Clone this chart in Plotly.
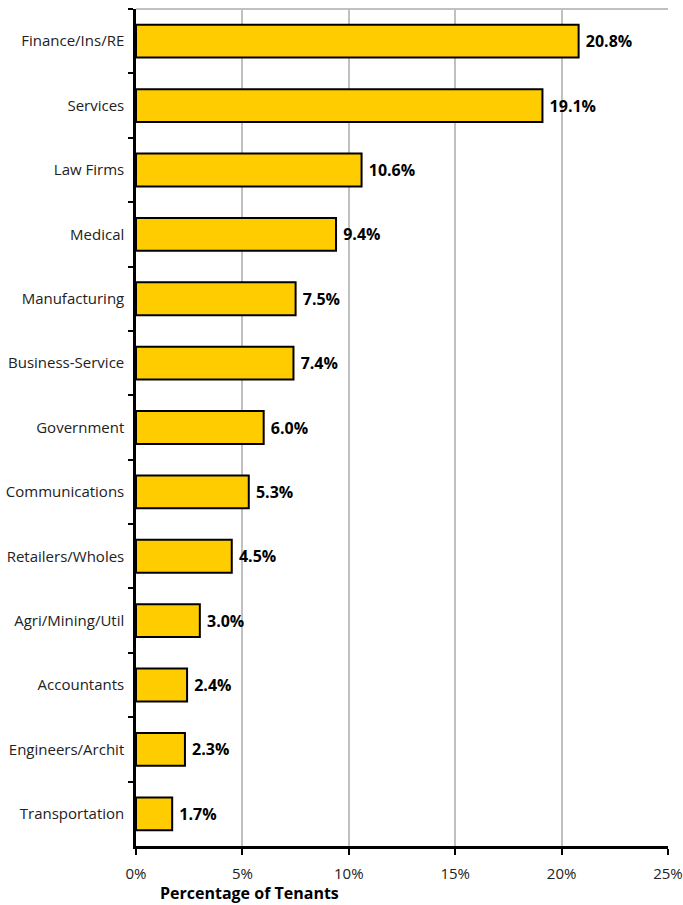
import plotly.graph_objects as go

categories = ["Finance/Ins/RE", "Services", "Law Firms", "Medical", "Manufacturing",
              "Business-Service", "Government", "Communications", "Retailers/Wholes",
              "Agri/Mining/Util", "Accountants", "Engineers/Archit", "Transportation"]
values = [20.8, 19.1, 10.6, 9.4, 7.5, 7.4, 6.0, 5.3, 4.5, 3.0, 2.4, 2.3, 1.7]
x_ticks = [0, 5, 10, 15, 20, 25]
x_tick_labels = ["0%", "5%", "10%", "15%", "20%", "25%"]

font_family = "Open Sans"

fig = go.Figure(go.Bar(
    y=categories, x=values, orientation="h",
    marker=dict(color="#FFCC00", line=dict(color="black", width=2)),
    width=0.51,
    text=[f"\u00a0{v:.1f}%" for v in values],
    textposition="outside",
    textfont=dict(family=font_family, size=16, color="black", weight="bold"),
    cliponaxis=False,
))

fig.update_layout(
    width=683, height=905,
    margin=dict(l=136, r=15, t=9, b=59),
    paper_bgcolor="white", plot_bgcolor="white",
    showlegend=False,
    font=dict(family=font_family, size=15, color="black"),
    xaxis=dict(
        range=[0, 25], tickvals=x_ticks, ticktext=x_tick_labels,
        showgrid=True, gridcolor="#C0C0C0", gridwidth=2,
        showline=True, linecolor="black", linewidth=2.5,
        ticks="outside", ticklen=6, tickwidth=2, tickcolor="black",
        tickfont=dict(family=font_family, size=15, color="#222222"),
        ticklabelstandoff=6,
        zeroline=False, automargin=False,
    ),
    yaxis=dict(
        categoryorder="array", categoryarray=categories, autorange="reversed",
        tickson="boundaries", ticks="outside", ticklen=5, tickwidth=2, tickcolor="black",
        showline=True, linecolor="black", linewidth=2.5,
        showgrid=False, ticklabelstandoff=6, automargin=False,
        tickfont=dict(family=font_family, size=15, color="#222222"),
    ),
    shapes=[dict(type="line", xref="paper", yref="paper", x0=0, x1=1, y0=1, y1=1,
                 line=dict(color="#C0C0C0", width=2))],
    annotations=[dict(text="<b>Percentage of Tenants</b>", xref="paper", yref="paper",
                      x=(249 - 136) / 532, y=0, yshift=-47, xanchor="center", yanchor="middle",
                      showarrow=False, font=dict(family=font_family, size=16, color="black"))],
)

fig.write_html("out.html")
